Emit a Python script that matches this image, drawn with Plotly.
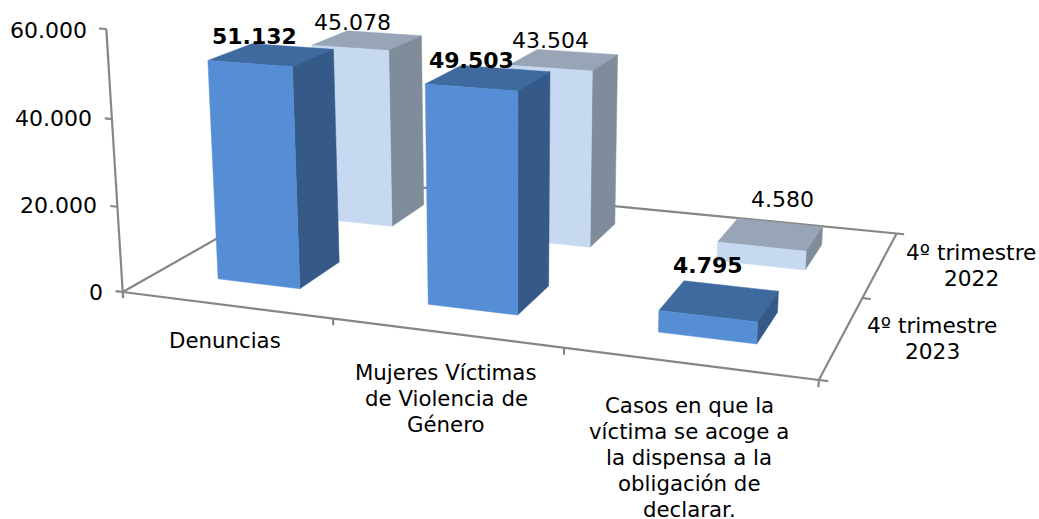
import numpy as np
import plotly.graph_objects as go

# ---- data ----
categories = ["Denuncias",
              "Mujeres Víctimas<br>de Violencia de<br>Género",
              "Casos en que la<br>víctima se acoge a<br>la dispensa a la<br>obligación de<br>declarar."]
series_names = ["4º trimestre<br>2023", "4º trimestre<br>2022"]
values_2023 = [51132, 49503, 4795]
values_2022 = [45078, 43504, 4580]
axis_ticks = [0, 20000, 40000, 60000]

# ---- styles ----
FRONT = dict(front="#558ed5", side="#355a88", top="#3f6aa0")
BACK = dict(front="#c6d9f1", side="#7f8c9a", top="#97a5b7")
AXIS = "#868686"
FONT = "DejaVu Sans"
FS_NUM = 22
FS_CAT = 21.3
FS_SER = 21.7
LH = 26

# ---- 3D camera: (category, series depth, value/60000) -> page pixels ----
CAM = np.array([
    [195.5635, 138.1053, -20.6939, 122.7],
    [12.4068, -36.2763, -264.1899, 292.0],
    [-0.044543, 0.116425, -0.040552, 1.0]])
ZMAX = 60000.0
B0, B1 = 0.3, 0.7


def pr(x, y, z=0.0):
    q = CAM @ np.array([x, y, z / ZMAX, 1.0])
    return q[0] / q[2], q[1] / q[2]


def fmt(v):
    return f"{v:,}".replace(",", ".")


fig = go.Figure()


def poly(pts, color):
    c = [pr(*p) for p in pts]
    fig.add_trace(go.Scatter(
        x=[p[0] for p in c] + [c[0][0]], y=[p[1] for p in c] + [c[0][1]],
        mode="lines", fill="toself", fillcolor=color,
        line=dict(color=color, width=0.5), hoverinfo="skip", showlegend=False))


def segs(pairs):
    xs, ys = [], []
    for a, b in pairs:
        pa, pb = pr(*a), pr(*b)
        xs += [pa[0], pb[0], None]
        ys += [pa[1], pb[1], None]
    fig.add_trace(go.Scatter(x=xs, y=ys, mode="lines",
                             line=dict(color=AXIS, width=2.2),
                             hoverinfo="skip", showlegend=False))


def bar(i, j, v, st):
    x0, x1, y0, y1 = i + B0, i + B1, j + B0, j + B1
    poly([(x0, y0, v), (x1, y0, v), (x1, y1, v), (x0, y1, v)], st["top"])
    poly([(x1, y0, 0), (x1, y1, 0), (x1, y1, v), (x1, y0, v)], st["side"])
    poly([(x0, y0, 0), (x1, y0, 0), (x1, y0, v), (x0, y0, v)], st["front"])


# frame
n = len(categories)
m = len(series_names)
frame = [((0, 0, 0), (0, 0, ZMAX)), ((0, 0, 0), (n, 0, 0)), ((0, 0, 0), (0, m, 0)),
         ((0, m, 0), (n, m, 0)), ((n, 0, 0), (n, m, 0))]
frame += [((-0.035, 0, t), (0, 0, t)) for t in axis_ticks]
frame += [((i, 0, 0), (i, 0, -1500)) for i in range(n + 1)]
frame += [((n, j, 0), (n + 0.035, j, 0)) for j in range(m + 1)]
segs(frame)

# bars: back row first, then front row
for i, v in enumerate(values_2022):
    bar(i, 1, v, BACK)
for i, v in enumerate(values_2023):
    bar(i, 0, v, FRONT)


def text(s, cx, cy, size, anchor="center", bold=False):
    fig.add_annotation(x=cx, y=cy, xref="x", yref="y", text=f"<b>{s}</b>" if bold else s,
                       showarrow=False, xanchor=anchor, yanchor="middle",
                       font=dict(family=FONT, size=size, color="#000000"))


def multiline(s, cx, cy0, size):
    for k, line in enumerate(s.split("<br>")):
        text(line, cx, cy0 + k * LH, size)


# axis labels
for t, (rx, cy) in zip(axis_ticks, [(105, 292), (99, 205), (94, 118), (89, 30)]):
    text(fmt(t), rx, cy, FS_NUM, anchor="right")

# value labels
for v, (cx, cy) in zip(values_2023, [(254, 36), (471, 60), (708, 265)]):
    text(fmt(v), cx, cy, FS_NUM, bold=True)
for v, (cx, cy) in zip(values_2022, [(352, 22), (550, 40), (782, 199)]):
    text(fmt(v), cx, cy, FS_NUM)

# category and series labels
for c, (cx, cy) in zip(categories, [(225, 340), (446, 372), (689, 405)]):
    multiline(c, cx, cy, FS_CAT)
for s, (cx, cy) in zip(series_names, [(932, 325), (971, 252)]):
    multiline(s, cx, cy, FS_SER)

fig.update_layout(
    width=1039, height=519, margin=dict(l=0, r=0, t=0, b=0),
    paper_bgcolor="#ffffff", plot_bgcolor="#ffffff", showlegend=False,
    xaxis=dict(range=[0, 1039], visible=False, domain=[0, 1], fixedrange=True),
    yaxis=dict(range=[519, 0], visible=False, domain=[0, 1], fixedrange=True),
)
fig.write_html("out.html", config=dict(displayModeBar=False),
               post_script="document.body.style.margin='0';document.body.style.overflow='hidden';")
